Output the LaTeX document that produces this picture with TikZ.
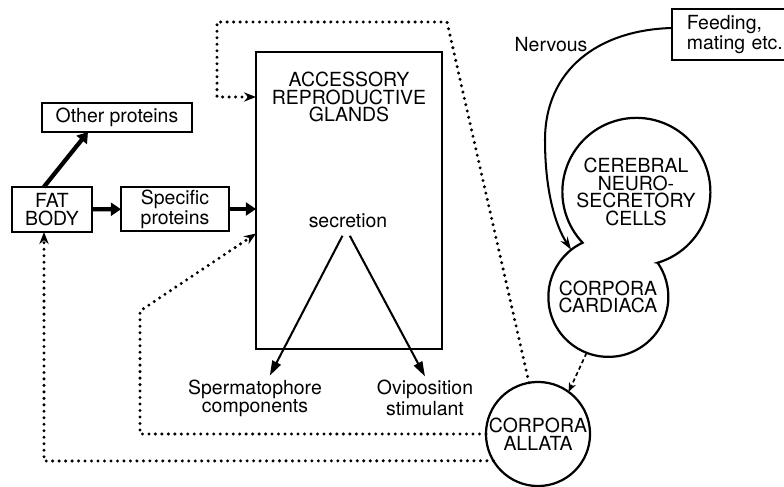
\documentclass[tikz,border=0pt]{standalone}
\usepackage{fontspec}
\setmainfont{TeX Gyre Heros}
\usepackage{tikz}
\usetikzlibrary{arrows.meta, positioning, calc}
\tikzstyle{box} = [draw,line width=1.3pt,align=center,inner sep=0pt,outer sep=0pt]
\tikzstyle{gland} = [circle,align=center,inner sep=0pt,outer sep=0pt]
\tikzstyle{fat arrow} = [line width=2.3pt,-{Triangle[length=5.5pt,width=7pt]}]
\tikzstyle{thin arrow} = [line width=1.1pt,-{Triangle[length=8pt,width=5pt]}]
\tikzstyle{nerve} = [line width=1.1pt,-{Stealth[length=7pt,width=4.5pt]}]
\tikzstyle{hormone} = [line width=1.8pt,line cap=round,dash pattern=on 0pt off 3.5pt,-{Stealth[length=6.5pt,width=5pt]}]
\tikzstyle{neuro link} = [line width=0.9pt,dash pattern=on 2.2pt off 1.6pt,-{Stealth[length=5pt,width=4pt]}]

\begin{document}
\begin{tikzpicture}[x=0.54pt,y=-0.54pt,font=\fontsize{10.5pt}{9.6pt}\selectfont]
    \useasboundingbox (0,0) rectangle (784,487);
    % protein side
    \node[box,minimum width=43.2pt,minimum height=24.3pt](fat_body) at (52,209.5) {FAT\\BODY};
    \node[box,minimum width=81pt,minimum height=15.7pt](other_prot) at (117,117.5) {Other proteins};
    \node[box,minimum width=58.3pt,minimum height=23.8pt](spec_prot) at (175,209) {Specific\\proteins};
    \node[box,line width=1.4pt,minimum width=100.4pt,minimum height=160.4pt](glands) at (349,200.5) {};
    \node[align=center,inner sep=0pt,below=10.5pt of glands.north](glands_lbl) {ACCESSORY\\REPRODUCTIVE\\GLANDS};
    \node[inner sep=4pt](secretion) at (348,221) {secretion};
    \node[align=center,inner sep=2pt](sperm) at (255,398) {Spermatophore\\components};
    \node[align=center,inner sep=2pt](ovi) at (425,398) {Oviposition\\stimulant};
    % endocrine side
    \node[box,anchor=west,align=left,text width=60pt,inner xsep=8pt,minimum height=27.5pt](feeding) at (672,34.5) {Feeding,\\mating etc.};
    \node (nervous) at (551,45) {Nervous};
    \node[gland,minimum size=79.9pt](cerebral) at (636,192) {CEREBRAL\\NEURO-\\SECRETORY\\CELLS};
    \node[gland,minimum size=64.8pt](cardiaca) at (608,297) {CORPORA\\CARDIACA};
    \node[gland,draw,line width=1.2pt,minimum size=56.2pt](allata) at (538,434) {CORPORA\\ALLATA};
    \draw[line width=1.2pt] (cerebral.-73.3) arc[start angle=-73.3,end angle=223.4,radius=39.96pt]
        arc[start angle=115.4,end angle=394.7,radius=32.4pt] -- cycle;

    \path[fat arrow]
    (fat_body.110) edge (other_prot.south -| 88,0)
    (fat_body) edge (spec_prot)
    (spec_prot.east) edge (spec_prot.east -| glands.west);
    \draw[thin arrow] ([xshift=-3pt]secretion.south) -- ([xshift=8pt]sperm.north);
    \draw[thin arrow] ([xshift=1pt]secretion.south) -- (ovi.north);

    \draw[nerve] (feeding.west |- 0,28) .. controls (598,30) and (545,70) .. (545,140)
        .. controls (545,190) and (555,225) .. (cardiaca.128);
    \draw[neuro link] (cardiaca.249) -- (allata.54);

    % hormone routes out of the corpora allata
    \coordinate (top_r) at (447,22);
    \coordinate (top_l) at (217,22);
    \coordinate (top_in) at (217,97);
    \draw[hormone] (allata.100) -- (top_r) -- (top_l) -- (top_in) -- (top_in -| glands.west);
    \coordinate (mid_r) at (140,434);
    \coordinate (mid_up) at (140,311);
    \draw[hormone] (allata.west) -- (mid_r) -- (mid_up) -- ($(glands.west)+(0,33)$);
    \coordinate (low_r) at (44,461);
    \draw[hormone] (allata.211) -- (low_r) -- (low_r |- fat_body.south);
\end{tikzpicture}
\end{document}
